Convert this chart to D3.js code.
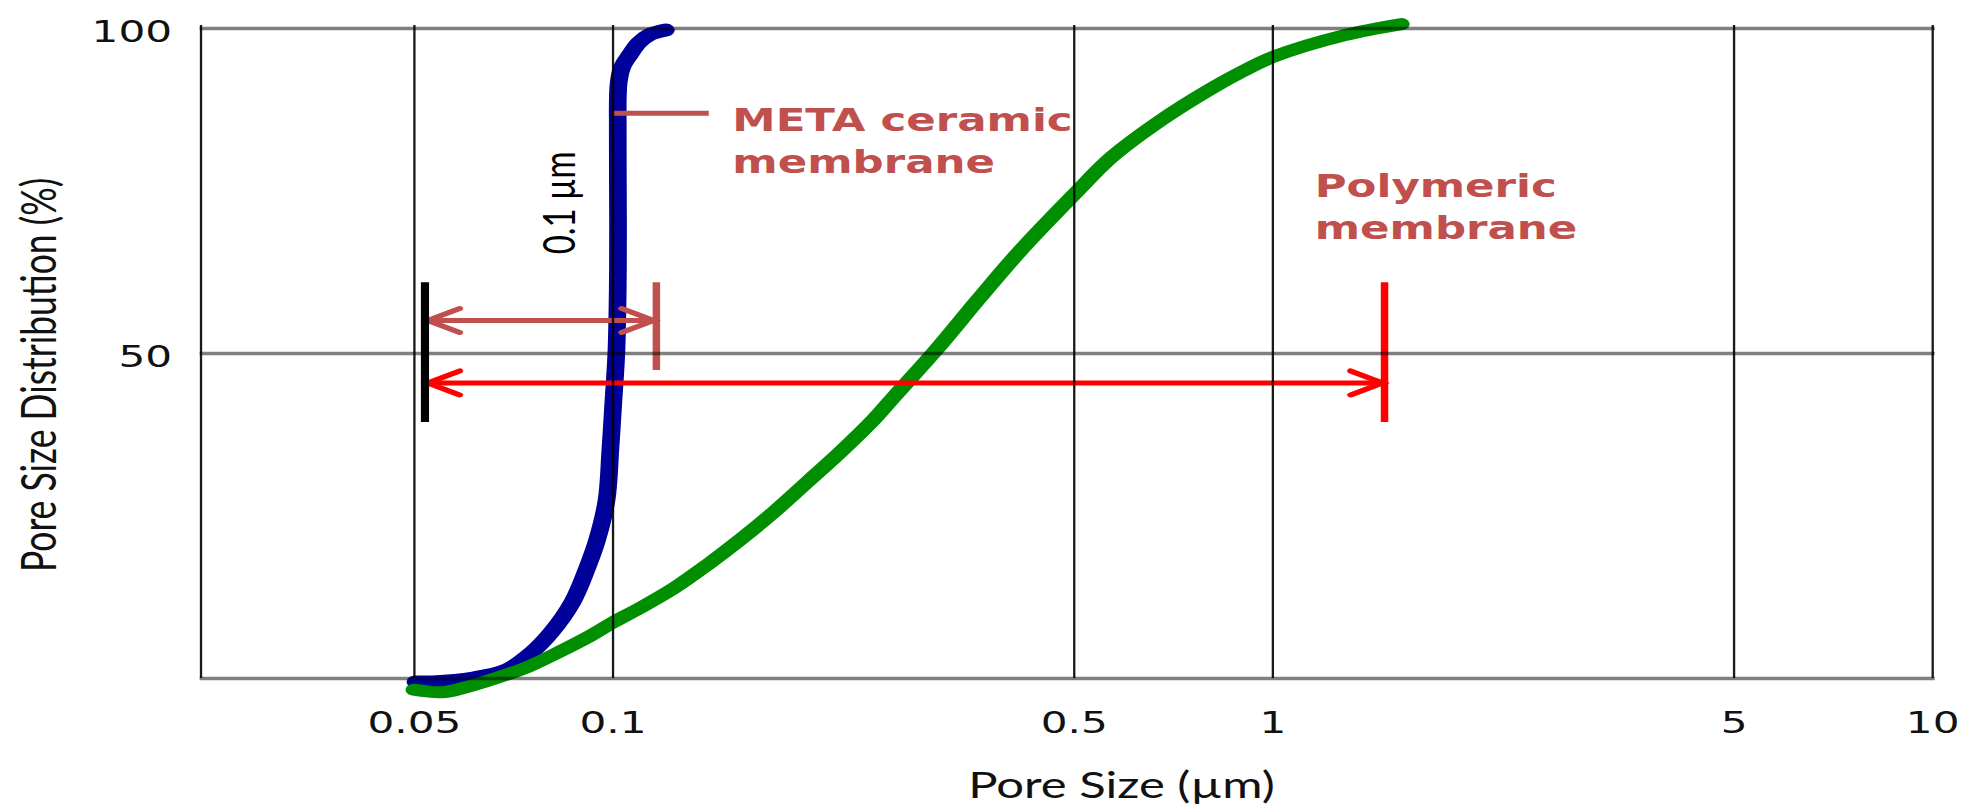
<!DOCTYPE html>
<html>
<head>
<meta charset="utf-8">
<script src="https://cdn.jsdelivr.net/npm/d3@7"></script>
<style>
  html, body { margin: 0; padding: 0; background: #fff; }
  svg { display: block; }
</style>
</head>
<body>
<svg id="chart"></svg>
<script>
// ---------------- data ----------------
const xTickValues = [0.05, 0.1, 0.5, 1, 5, 10];
const xTickLabels = ["0.05", "0.1", "0.5", "1", "5", "10"];
const yTickValues = [50, 100];
const yTickLabels = ["50", "100"];
const yGridValues = [0, 50, 100];

// META ceramic membrane (blue)
const ceramicSize = [0.0503, 0.0534, 0.0616, 0.0690, 0.0752, 0.0806, 0.0870, 0.0918, 0.0948,
                     0.0980, 0.0993, 0.1004, 0.1014, 0.1019, 0.1020, 0.1019, 0.1022, 0.1035,
                     0.1065, 0.1096, 0.1140, 0.1205];
const ceramicPct  = [-0.6, -0.6, 0.0, 1.2, 3.8, 6.9, 11.7, 17.2, 21.2,
                     27.4, 35.1, 42.8, 50.0, 60.0, 70.0, 83.8, 91.5, 94.0,
                     96.0, 97.7, 99.0, 99.7];

// Polymeric membrane (green)
const polymerSize = [0.0500, 0.0552, 0.0596, 0.0667, 0.0744, 0.0830, 0.0930, 0.1000, 0.1103,
                     0.1239, 0.1392, 0.1568, 0.1760, 0.1977, 0.2229, 0.2502, 0.2685, 0.3090,
                     0.3596, 0.4140, 0.5000, 0.5720, 0.6780, 0.8030, 0.8970, 1.0000, 1.2880, 1.5700];
const polymerPct  = [-1.8, -2.2, -1.5, 0.0, 1.7, 4.0, 6.6, 8.5, 10.8,
                     13.8, 17.4, 21.4, 25.6, 30.2, 35.0, 40.0, 43.5, 50.4,
                     58.4, 65.6, 74.3, 80.2, 85.8, 90.5, 93.2, 95.5, 98.9, 100.6];

// annotations (in data units)
const ceramicArrowSize = [0.0525, 0.1155];   const ceramicArrowPct = 55.0;
const polymerArrowSize = [0.0525, 1.47];     const polymerArrowPct = 45.4;
const startBar   = [0.0520, 39.4, 60.9];     // size, pct from, pct to
const ceramicBar = [0.1166, 47.4, 60.9];
const polymerBar = [1.48, 39.4, 60.9];
const pointerSize = [0.1, 0.140];            const pointerPct = 86.9;
const ceramicLabel = ["META ceramic", "membrane"]; const ceramicLabelPos = [0.152, 84.2, 77.7];
const polymerLabel = ["Polymeric", "membrane"];    const polymerLabelPos = [1.16, 74.0, 67.5];
const poreLabel = "0.1 µm";                        const poreLabelPos = [0.0878, 73.1];

// ---------------- layout ----------------
const W = 1977, H = 806;
const S = 1.36;               // the original picture is stretched horizontally
const plot = { left: 147.8, right: 1420.6, top: 28, bottom: 678 };

const x = d3.scaleLog().domain([0.0238, 10]).range([plot.left, plot.right]);
const y = d3.scaleLinear().domain([0, 100]).range([plot.bottom, plot.top]);

const svg = d3.select("#chart").attr("width", W).attr("height", H);
svg.append("rect").attr("width", W).attr("height", H).attr("fill", "#fff");
const g = svg.append("g").attr("transform", `scale(${S},1)`);

const BROWN = "#c0504d", RED = "#ff0000";
const textFont = "Lato, 'Open Sans', sans-serif";
const tickFont = "'DejaVu Sans', Verdana, sans-serif";
const boldFont = "'DejaVu Sans', Verdana, sans-serif";

// ---------------- curves ----------------
const line = d3.line()
  .x(d => x(d[0])).y(d => y(d[1]))
  .curve(d3.curveCatmullRom.alpha(0.5));

g.append("path")
  .datum(d3.zip(ceramicSize, ceramicPct))
  .attr("d", line)
  .attr("fill", "none").attr("stroke", "#00009a")
  .attr("stroke-width", 13).attr("stroke-linecap", "round").attr("stroke-linejoin", "round");

g.append("path")
  .datum(d3.zip(polymerSize, polymerPct))
  .attr("d", line)
  .attr("fill", "none").attr("stroke", "#008f00")
  .attr("stroke-width", 12).attr("stroke-linecap", "round").attr("stroke-linejoin", "round");

// ---------------- annotations ----------------
const ann = g.append("g").attr("fill", "none");

function doubleArrow(sizes, pct, color) {
  const x0 = x(sizes[0]), x1 = x(sizes[1]), yy = y(pct);
  const ax = 23.5, ay = 12;
  ann.append("line").attr("x1", x0).attr("x2", x1).attr("y1", yy).attr("y2", yy)
    .attr("stroke", color).attr("stroke-width", 5);
  ann.append("path")
    .attr("d", `M${x0 + ax},${yy - ay}L${x0},${yy}L${x0 + ax},${yy + ay}`)
    .attr("stroke", color).attr("stroke-width", 5).attr("stroke-linecap", "round").attr("stroke-linejoin", "miter");
  ann.append("path")
    .attr("d", `M${x1 - ax},${yy - ay}L${x1},${yy}L${x1 - ax},${yy + ay}`)
    .attr("stroke", color).attr("stroke-width", 5).attr("stroke-linecap", "round").attr("stroke-linejoin", "miter");
}
function bar(b, color, w) {
  ann.append("line").attr("x1", x(b[0])).attr("x2", x(b[0]))
    .attr("y1", y(b[1])).attr("y2", y(b[2]))
    .attr("stroke", color).attr("stroke-width", w);
}

ann.append("line")
  .attr("x1", x(pointerSize[0])).attr("x2", x(pointerSize[1]))
  .attr("y1", y(pointerPct)).attr("y2", y(pointerPct))
  .attr("stroke", BROWN).attr("stroke-width", 5);

doubleArrow(ceramicArrowSize, ceramicArrowPct, BROWN);
doubleArrow(polymerArrowSize, polymerArrowPct, RED);
bar(startBar, "#000", 6);
bar(ceramicBar, BROWN, 5.5);
bar(polymerBar, RED, 5.5);

// labels
function label(lines, pos) {
  const t = g.append("text")
    .attr("font-family", boldFont).attr("font-weight", "bold").attr("font-size", 32)
    .attr("fill", BROWN);
  lines.forEach((s, i) => {
    t.append("tspan").attr("x", x(pos[0])).attr("y", y(pos[1 + i])).text(s);
  });
}
label(ceramicLabel, ceramicLabelPos);
label(polymerLabel, polymerLabelPos);

g.append("text")
  .attr("transform", `translate(${x(poreLabelPos[0])},${y(poreLabelPos[1])}) rotate(-90)`)
  .attr("text-anchor", "middle")
  .attr("font-family", textFont).attr("font-size", 33).attr("fill", "#000")
  .text(poreLabel);

// ---------------- grid (drawn on top, like the original) ----------------
const gridV = g.append("g")
  .attr("transform", `translate(0,${plot.bottom})`)
  .call(d3.axisBottom(x).tickValues(xTickValues).tickFormat("")
        .tickSize(-(plot.bottom - plot.top + 3)).tickSizeOuter(0));
gridV.select(".domain").remove();
gridV.selectAll(".tick line").attr("stroke", "#000").attr("stroke-width", 1.7).attr("stroke-opacity", 0.9);

g.append("line")
  .attr("x1", plot.left).attr("x2", plot.left)
  .attr("y1", plot.top - 3).attr("y2", plot.bottom)
  .attr("stroke", "#000").attr("stroke-width", 1.7).attr("stroke-opacity", 0.9);

const gridH = g.append("g")
  .attr("transform", `translate(${plot.left - 1},0)`)
  .call(d3.axisLeft(y).tickValues(yGridValues).tickFormat("")
        .tickSize(-(plot.right - plot.left + 3)).tickSizeOuter(0));
gridH.select(".domain").remove();
gridH.selectAll(".tick line").attr("stroke", "#000").attr("stroke-width", 3.6).attr("stroke-opacity", 0.5);

// ---------------- axis labels ----------------
const xAxis = g.append("g")
  .attr("transform", `translate(0,${plot.bottom})`)
  .call(d3.axisBottom(x).tickValues(xTickValues)
        .tickFormat((d, i) => xTickLabels[i]).tickSize(0));
xAxis.select(".domain").remove();
xAxis.selectAll(".tick text")
  .attr("y", 55).attr("dy", 0)
  .attr("font-family", tickFont).attr("font-size", 31).attr("fill", "#111");

const yAxis = g.append("g")
  .attr("transform", `translate(${plot.left},0)`)
  .call(d3.axisLeft(y).tickValues(yTickValues)
        .tickFormat((d, i) => yTickLabels[i]).tickSize(0).tickPadding(21.3));
yAxis.select(".domain").remove();
yAxis.selectAll(".tick text")
  .attr("dy", 13)
  .attr("font-family", tickFont).attr("font-size", 31).attr("fill", "#111");

g.append("text")
  .attr("x", 824.6).attr("y", 798)
  .attr("text-anchor", "middle")
  .attr("font-family", textFont).attr("font-size", 36).attr("fill", "#111")
  .text("Pore Size (µm)");

g.append("text")
  .attr("transform", "translate(41,375) rotate(-90)")
  .attr("text-anchor", "middle")
  .attr("font-family", textFont).attr("font-size", 35.5).attr("fill", "#111")
  .text("Pore Size Distribution (%)");
</script>
</body>
</html>
